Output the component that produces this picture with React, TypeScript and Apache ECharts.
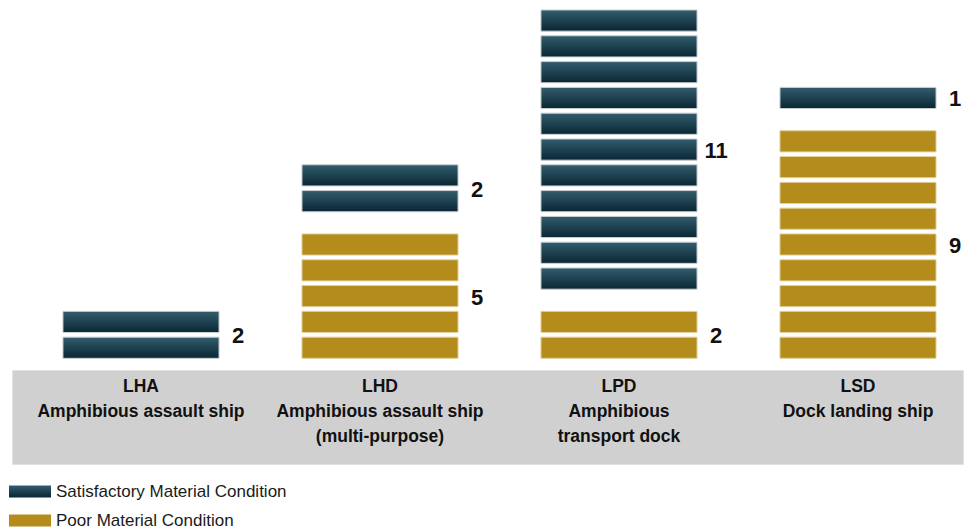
import React, { useEffect, useRef } from "react";
import * as echarts from "echarts";

const categories = [
  "LHA\nAmphibious assault ship",
  "LHD\nAmphibious assault ship\n(multi-purpose)",
  "LPD\nAmphibious\ntransport dock",
  "LSD\nDock landing ship",
];
const satisfactory = [2, 2, 11, 1];
const poor = [0, 5, 2, 9];
const seriesNames = ["Satisfactory Material Condition", "Poor Material Condition"];

const BLOCK = 0.82;
const GROUP_GAP = 0.68;
const FONT = "'Liberation Sans Narrow', 'Arial Narrow', 'Liberation Sans', sans-serif";

export default function App() {
  const ref = useRef<HTMLDivElement>(null);
  useEffect(() => {
    const chart = echarts.init(ref.current!, null, { renderer: "svg" });
    const satGrad = new echarts.graphic.LinearGradient(0, 0, 0, 1, [
      { offset: 0, color: "#335d6d" },
      { offset: 1, color: "#0a2634" },
    ]);
    const gold = "#b38c1b";

    const poorData = poor.map((n, i) => [i, 0, n]);
    const satData = satisfactory.map((n, i) => [i, poor[i] > 0 ? poor[i] + GROUP_GAP : 0, n]);

    const makeRender = (fill: any, stroke: string) => (params: any, api: any) => {
      const cat = api.value(0);
      const start = api.value(1);
      const count = api.value(2);
      const bandW = api.size([1, 0])[0];
      const w = bandW * 0.653;
      const children: any[] = [];
      for (let k = 0; k < count; k++) {
        const p0 = api.coord([cat, start + k]);
        const p1 = api.coord([cat, start + k + BLOCK]);
        children.push({
          type: "rect",
          shape: { x: p0[0] - w / 2, y: p1[1], width: w, height: p0[1] - p1[1] },
          style: { fill, stroke, lineWidth: 1 },
        });
      }
      if (count > 0) {
        const mid = api.coord([cat, start + (count - 1 + BLOCK) / 2]);
        children.push({
          type: "text",
          style: {
            text: String(count),
            x: mid[0] + w / 2 + 19,
            y: mid[1] + 1,
            align: "center",
            verticalAlign: "middle",
            fontSize: 22,
            fontWeight: "bold",
            fontFamily: FONT,
            fill: "#111",
          },
        });
      }
      return { type: "group", children };
    };

    chart.setOption({
      animation: false,
      grid: { left: 21.5, width: 956, top: 7.4, height: 350.9 },
      legend: {
        orient: "vertical",
        left: 9,
        top: 482,
        padding: 0,
        itemWidth: 42,
        itemHeight: 12,
        itemGap: 10,
        icon: "rect",
        textStyle: { fontFamily: FONT, fontSize: 17, lineHeight: 19, color: "#1a1a1a" },
        data: seriesNames,
      },
      graphic: {
        elements: [
          {
            type: "rect",
            z: -10,
            left: 12,
            top: 370,
            shape: { width: 951, height: 94 },
            style: { fill: "#d0d0d0", stroke: "#e2e2e2", lineWidth: 1 },
          },
        ],
      },
      xAxis: {
        type: "category",
        data: categories,
        axisLine: { show: false },
        axisTick: { show: false },
        axisLabel: {
          interval: 0,
          margin: 15,
          fontFamily: FONT,
          fontWeight: "bold",
          fontSize: 17.5,
          lineHeight: 25,
          color: "#111",
        },
      },
      yAxis: { type: "value", min: 0, max: 13.6, show: false, splitLine: { show: false } },
      series: [
        {
          name: seriesNames[0],
          type: "custom",
          itemStyle: { color: satGrad },
          renderItem: makeRender(satGrad, "#c9cfd2"),
          data: satData,
        },
        {
          name: seriesNames[1],
          type: "custom",
          itemStyle: { color: gold },
          renderItem: makeRender(gold, "#e3d39f"),
          data: poorData,
        },
      ],
    });
    return () => chart.dispose();
  }, []);
  return (
    <div style={{ position: "absolute", left: 0, top: 0, width: 972, height: 531, overflow: "hidden" }}>
      <div ref={ref} style={{ width: 1000, height: 531 }} />
    </div>
  );
}
